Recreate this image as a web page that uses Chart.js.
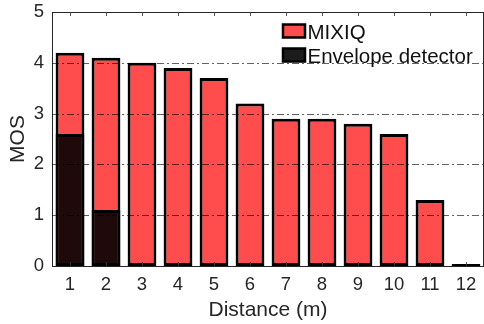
<!DOCTYPE html>
<html>
<head>
<meta charset="utf-8">
<script src="https://cdn.jsdelivr.net/npm/chart.js@4/dist/chart.umd.min.js"></script>
<style>
  html, body { margin: 0; padding: 0; background: #ffffff; }
  #wrap { width: 484px; height: 324px; }
</style>
</head>
<body>
<div id="wrap"><canvas id="c" width="484" height="324"></canvas></div>
<script>
const distances = ['1','2','3','4','5','6','7','8','9','10','11','12'];
const mixiq = [4.2, 4.1, 4.0, 3.9, 3.7, 3.2, 2.9, 2.9, 2.8, 2.6, 1.3, 0];
const envelope = [2.6, 1.1, 0, 0, 0, 0, 0, 0, 0, 0, 0, 0];
const yTicks = [0, 1, 2, 3, 4, 5];
const seriesNames = ['MIXIQ', 'Envelope detector'];

const RED = '#ff4c4c';
const DARK = '#1e0a0a';
const AXIS = '#262626';
const FONT = '"Liberation Sans", Arial, Helvetica, sans-serif';

const overlayPlugin = {
  id: 'overlay',
  afterDatasetsDraw(chart) {
    const {ctx, chartArea: a, scales: {x, y}} = chart;
    ctx.save();
    ctx.lineWidth = 1;
    ctx.strokeStyle = 'rgba(0,0,0,0.62)';
    ctx.setLineDash([7, 3, 2, 3]);
    yTicks.forEach(v => {
      if (v <= y.min || v >= y.max) return;
      const py = Math.round(y.getPixelForValue(v)) + 0.5;
      ctx.beginPath();
      ctx.moveTo(a.left, py);
      ctx.lineTo(a.right, py);
      ctx.stroke();
    });
    ctx.setLineDash([]);
    ctx.strokeStyle = AXIS;
    ctx.beginPath();
    ctx.moveTo(a.left, Math.round(a.top) + 0.5);
    ctx.lineTo(a.right, Math.round(a.top) + 0.5);
    ctx.moveTo(a.right - 0.5, a.top);
    ctx.lineTo(a.right - 0.5, a.bottom);
    ctx.stroke();
    ctx.strokeStyle = 'rgba(60,60,60,0.85)';
    distances.forEach((d, i) => {
      const px = Math.round(x.getPixelForValue(i)) + 0.5;
      ctx.beginPath();
      ctx.moveTo(px, a.bottom);
      ctx.lineTo(px, a.bottom - 4);
      ctx.moveTo(px, a.top);
      ctx.lineTo(px, a.top + 4);
      ctx.stroke();
    });
    ctx.restore();
  },
  afterDraw(chart) {
    const {ctx} = chart;
    ctx.save();
    const entries = [
      {label: seriesNames[0], fill: RED, y: 24.5},
      {label: seriesNames[1], fill: '#1c1c1c', y: 48.5}
    ];
    ctx.font = '20.5px ' + FONT;
    ctx.textBaseline = 'alphabetic';
    ctx.textAlign = 'left';
    entries.forEach(e => {
      ctx.fillStyle = e.fill;
      ctx.fillRect(283, e.y, 22, 13);
      ctx.lineWidth = 2.5;
      ctx.strokeStyle = '#000';
      ctx.strokeRect(283, e.y, 22, 13);
      ctx.fillStyle = '#111';
      ctx.fillText(e.label, 307.5, e.y + 14.5);
    });
    ctx.restore();
  }
};

new Chart(document.getElementById('c'), {
  type: 'bar',
  data: {
    labels: distances,
    datasets: [
      {
        label: seriesNames[0],
        data: mixiq,
        backgroundColor: RED,
        borderColor: '#000',
        borderWidth: 3,
        borderSkipped: false,
        minBarLength: 2,
        grouped: false,
        order: 2
      },
      {
        label: seriesNames[1],
        data: envelope,
        backgroundColor: DARK,
        borderColor: '#000',
        borderWidth: 3,
        borderSkipped: false,
        grouped: false,
        order: 1
      }
    ]
  },
  options: {
    responsive: false,
    animation: false,
    devicePixelRatio: 1,
    layout: { padding: { top: 12, right: 0, left: 0, bottom: 0 } },
    datasets: { bar: { barPercentage: 0.8, categoryPercentage: 1.0 } },
    plugins: { legend: { display: false }, tooltip: { enabled: false } },
    scales: {
      x: {
        type: 'category',
        offset: true,
        grid: { display: false, drawTicks: false },
        border: { display: true, color: AXIS, width: 1 },
        ticks: { color: AXIS, font: { family: FONT, size: 18.5 }, padding: 8, maxRotation: 0, autoSkip: false },
        title: { display: true, text: 'Distance (m)', color: AXIS, font: { family: FONT, size: 21 }, padding: { top: 0, bottom: 1 } },
        afterFit(scale) { scale.height = 58; scale.paddingLeft = 0; scale.paddingRight = 0; }
      },
      y: {
        min: 0,
        max: 5,
        afterBuildTicks(scale) { scale.ticks = yTicks.map(v => ({ value: v })); },
        grid: { display: false, drawTicks: false },
        border: { display: true, color: AXIS, width: 1 },
        ticks: { color: AXIS, font: { family: FONT, size: 18.5 }, padding: 8 },
        title: { display: true, text: 'MOS', color: AXIS, font: { family: FONT, size: 21 }, padding: { top: 6, bottom: 0 } },
        afterFit(scale) { scale.width = 52; scale.paddingTop = 0; scale.paddingBottom = 0; }
      }
    }
  },
  plugins: [overlayPlugin]
});
</script>
</body>
</html>
